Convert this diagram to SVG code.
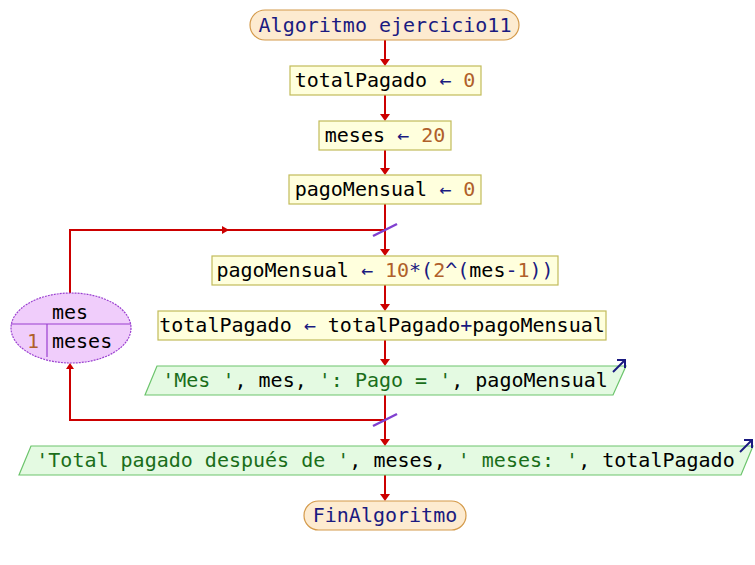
<svg xmlns="http://www.w3.org/2000/svg" width="755" height="565" viewBox="0 0 755 565">
<defs>
<style>
text{font-family:"DejaVu Sans Mono","Liberation Mono",monospace;font-size:20px;fill:#000;}
.t{text-anchor:middle;}
.kw{fill:#1a1a80;}
.op{fill:#1a1a80;}
.num{fill:#b0602a;}
.str{fill:#1a6e1a;}
.term{fill:#fdebd0;stroke:#d49a4a;stroke-width:1.2;}
.asg{fill:#ffffdd;stroke:#c2bb5a;stroke-width:1.2;}
.out{fill:#e4fae2;stroke:#6cc46c;stroke-width:1.2;}
.loop{fill:#f0cdfb;stroke:#9a3fd0;stroke-width:1.2;stroke-dasharray:2 1;}
.div{stroke:#9a3fd0;stroke-width:1.2;fill:none;}
.ln{stroke:#cc0000;stroke-width:2;fill:none;}
.ah{fill:#cc0000;}
.sl{stroke:#8040d0;stroke-width:2.5;}
.ic{stroke:#1a1a80;stroke-width:2;fill:none;}
</style>
</defs>
<g id="connectors">
<line class="ln" x1="385" y1="40" x2="385" y2="60"/><polygon class="ah" points="380,59 390,59 385,66"/>
<line class="ln" x1="385" y1="95" x2="385" y2="115"/><polygon class="ah" points="380,114 390,114 385,121"/>
<line class="ln" x1="385" y1="150" x2="385" y2="169"/><polygon class="ah" points="380,168 390,168 385,175"/>
<line class="ln" x1="385" y1="204" x2="385" y2="250"/><polygon class="ah" points="380,249 390,249 385,256"/>
<line class="ln" x1="385" y1="285" x2="385" y2="305"/><polygon class="ah" points="380,304 390,304 385,311"/>
<line class="ln" x1="385" y1="340" x2="385" y2="360"/><polygon class="ah" points="380,359 390,359 385,366"/>
<line class="ln" x1="385" y1="395" x2="385" y2="440"/><polygon class="ah" points="380,439 390,439 385,446"/>
<line class="ln" x1="385" y1="475" x2="385" y2="495"/><polygon class="ah" points="380,494 390,494 385,501"/>
<polyline class="ln" points="70,293 70,230 385,230"/><polygon class="ah" points="222,226 222,234 229,230"/>
<polyline class="ln" points="385,420 70,420 70,369"/><polygon class="ah" points="66,369 74,369 70,363"/>
<line class="sl" x1="373" y1="236" x2="397" y2="224"/>
<line class="sl" x1="373" y1="426" x2="397" y2="414"/>
</g>
<g id="start">
<rect class="term" x="250" y="10" width="269" height="30" rx="15" ry="15"/>
<text class="t kw" x="385" y="32">Algoritmo ejercicio11</text>
</g>
<g id="n1">
<rect class="asg" x="290" y="66" width="191" height="29"/>
<text class="t" x="385" y="87">totalPagado <tspan class="op">←</tspan> <tspan class="num">0</tspan></text>
</g>
<g id="n2">
<rect class="asg" x="319" y="121" width="132" height="29"/>
<text class="t" x="385" y="142">meses <tspan class="op">←</tspan> <tspan class="num">20</tspan></text>
</g>
<g id="n3">
<rect class="asg" x="289" y="175" width="192" height="29"/>
<text class="t" x="385" y="196">pagoMensual <tspan class="op">←</tspan> <tspan class="num">0</tspan></text>
</g>
<g id="loop">
<ellipse class="loop" cx="71" cy="328" rx="60" ry="35"/>
<line class="div" x1="11" y1="324" x2="131" y2="324"/>
<line class="div" x1="47" y1="324" x2="47" y2="357"/>
<text class="t" x="70" y="319">mes</text>
<text class="num" x="27" y="348">1</text>
<text x="52" y="348">meses</text>
</g>
<g id="n4">
<rect class="asg" x="212" y="256" width="346" height="29"/>
<text class="t" x="385" y="277">pagoMensual <tspan class="op">←</tspan> <tspan class="num">10</tspan><tspan class="op">*(</tspan><tspan class="num">2</tspan><tspan class="op">^(</tspan>mes<tspan class="op">-</tspan><tspan class="num">1</tspan><tspan class="op">))</tspan></text>
</g>
<g id="n5">
<rect class="asg" x="158" y="311" width="448" height="29"/>
<text class="t" x="382" y="332">totalPagado <tspan class="op">←</tspan> totalPagado<tspan class="op">+</tspan>pagoMensual</text>
</g>
<g id="out1">
<polygon class="out" points="157,366 626,366 613,395 145,395"/>
<polyline class="ic" points="613,372 624,361"/><polyline class="ic" points="617,360 625,360 625,368"/>
<text class="t" x="385" y="387"><tspan class="str">'Mes '</tspan>, mes, <tspan class="str">': Pago = '</tspan>, pagoMensual</text>
</g>
<g id="out2">
<polygon class="out" points="31,446 753,446 741,475 19,475"/>
<polyline class="ic" points="740,452 751,441"/><polyline class="ic" points="744,440 752,440 752,448"/>
<text class="t" x="385.5" y="467"><tspan class="str">'Total pagado después de '</tspan>, meses, <tspan class="str">' meses: '</tspan>, totalPagado</text>
</g>
<g id="end">
<rect class="term" x="304" y="501" width="162" height="29" rx="14.5" ry="14.5"/>
<text class="t kw" x="385" y="522">FinAlgoritmo</text>
</g>
</svg>
